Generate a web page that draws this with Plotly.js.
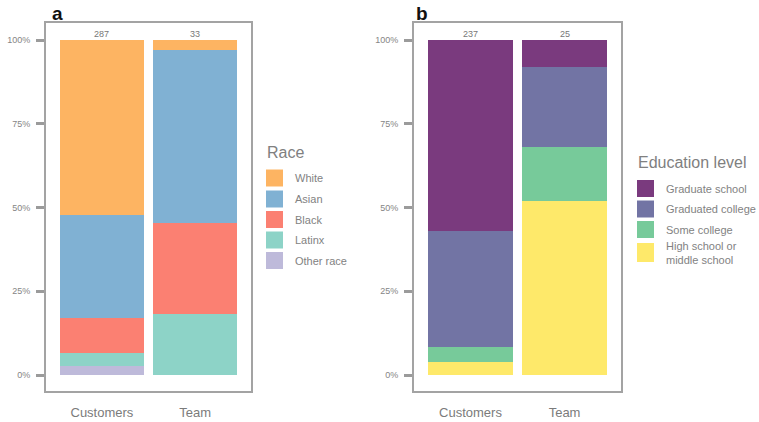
<!DOCTYPE html>
<html>
<head>
<meta charset="utf-8">
<script src="https://cdn.plot.ly/plotly-3.0.1.min.js"></script>
<style>
  html, body { margin: 0; padding: 0; background: #ffffff; }
  #chart { width: 759px; height: 422px; }
</style>
</head>
<body>
<div id="chart"></div>
<script>
// Groups compared in both panels
const groups = ['Customers', 'Team'];

// Panel a: race, counts per group (stack order bottom -> top)
const raceNames  = ['Other race', 'Latinx', 'Black', 'Asian', 'White'];
const raceColors = ['#BEBADA', '#8DD3C7', '#FB8072', '#80B1D3', '#FDB462'];
const raceOther  = [8, 0];
const raceLatinx = [11, 6];
const raceBlack  = [30, 9];
const raceAsian  = [88, 17];
const raceWhite  = [150, 1];

// Panel b: education level, counts per group (stack order bottom -> top)
const eduNames  = ['High school or<br>middle school', 'Some college', 'Graduated college', 'Graduate school'];
const eduColors = ['#FEE96A', '#77CA9A', '#7274A4', '#7A3A7E'];
const eduHigh   = [9, 13];
const eduSome   = [11, 4];
const eduCollege = [82, 6];
const eduGrad   = [135, 2];

// Y axis tick labels
const yTickVals = [0, 0.25, 0.5, 0.75, 1];
const yTickText = ['0%', '25%', '50%', '75%', '100%'];

const FONT = 'Liberation Sans, Arial, Helvetica, sans-serif';
const W = 759, H = 422;
const px = x => x / W;
const py = y => 1 - y / H;

function totals(series) {
  return groups.map((_, i) => series.reduce((s, arr) => s + arr[i], 0));
}

const raceSeries = [raceOther, raceLatinx, raceBlack, raceAsian, raceWhite];
const eduSeries = [eduHigh, eduSome, eduCollege, eduGrad];
const raceTotals = totals(raceSeries);
const eduTotals = totals(eduSeries);

const traces = [];
raceSeries.forEach((arr, k) => {
  traces.push({
    type: 'bar', x: groups, y: arr.map((v, i) => v / raceTotals[i]),
    name: raceNames[k], width: 0.9, xaxis: 'x', yaxis: 'y',
    marker: { color: raceColors[k], line: { width: 0 } },
    showlegend: false, hoverinfo: 'skip'
  });
});
eduSeries.forEach((arr, k) => {
  traces.push({
    type: 'bar', x: groups, y: arr.map((v, i) => v / eduTotals[i]),
    name: eduNames[k], width: 0.9, xaxis: 'x2', yaxis: 'y2',
    marker: { color: eduColors[k], line: { width: 0 } },
    showlegend: false, hoverinfo: 'skip'
  });
});

const yRange = [-16 / 335, 1 + 17 / 335];
const yDomain = [py(391), py(23)];

function xAxis(domain, anchor) {
  return {
    domain: domain, anchor: anchor, type: 'category',
    range: [-0.6, 1.6], fixedrange: true,
    showgrid: false, zeroline: false,
    showline: true, mirror: true, linecolor: '#a3a3a3', linewidth: 2,
    ticks: 'outside', ticklen: 8, tickcolor: 'rgba(0,0,0,0)',
    tickfont: { family: FONT, size: 13, color: '#7b7b7b' }
  };
}
function yAxis(anchor) {
  return {
    domain: yDomain, anchor: anchor, range: yRange, fixedrange: true,
    showgrid: false, zeroline: false,
    showline: true, mirror: true, linecolor: '#a3a3a3', linewidth: 2,
    ticks: 'outside', ticklen: 8, tickwidth: 3, tickcolor: '#9b9b9b',
    tickvals: yTickVals, ticktext: yTickText, ticklabelstandoff: 4,
    tickfont: { family: FONT, size: 9, color: '#858585' }
  };
}

const annotations = [];
const shapes = [];

// totals above each bar
groups.forEach((g, i) => {
  annotations.push({ xref: 'x', yref: 'y', x: g, y: 1, text: String(raceTotals[i]),
    showarrow: false, yanchor: 'bottom', yshift: -1,
    font: { family: FONT, size: 9, color: '#777777' } });
  annotations.push({ xref: 'x2', yref: 'y2', x: g, y: 1, text: String(eduTotals[i]),
    showarrow: false, yanchor: 'bottom', yshift: -1,
    font: { family: FONT, size: 9, color: '#777777' } });
});

// panel tags
[['a', 50], ['b', 414]].forEach(([t, x]) => {
  annotations.push({ xref: 'paper', yref: 'paper', x: px(x), y: py(13), text: '<b>' + t + '</b>',
    showarrow: false, xanchor: 'left', yanchor: 'middle',
    font: { family: FONT, size: 19, color: '#111111' } });
});

// legend blocks, top entry first
function legendBlock(title, names, colors, titleX, titleY, keyX, labelX, rows) {
  annotations.push({ xref: 'paper', yref: 'paper', x: px(titleX), y: py(titleY), text: title,
    showarrow: false, xanchor: 'left', yanchor: 'middle',
    font: { family: FONT, size: 16, color: '#808080' } });
  rows.forEach((r, k) => {
    shapes.push({ type: 'rect', xref: 'paper', yref: 'paper',
      x0: px(keyX), x1: px(keyX + 17), y0: py(r[0] + r[1] / 2), y1: py(r[0] - r[1] / 2),
      fillcolor: colors[k], line: { width: 0 } });
    annotations.push({ xref: 'paper', yref: 'paper', x: px(labelX), y: py(r[0]), text: names[k],
      showarrow: false, xanchor: 'left', yanchor: 'middle', align: 'left',
      font: { family: FONT, size: 11, color: '#828282' } });
  });
}
legendBlock('Race', raceNames.slice().reverse(), raceColors.slice().reverse(),
  265, 152.5, 266, 293, [[178, 17], [199, 17], [219.5, 17], [240, 17], [260.5, 17]]);
legendBlock('Education level', eduNames.slice().reverse(), eduColors.slice().reverse(),
  636, 163, 637, 664, [[188.5, 17], [209, 17], [229.5, 17], [252.5, 19]]);

const layout = {
  width: W, height: H,
  margin: { l: 0, r: 0, t: 0, b: 0 },
  paper_bgcolor: '#ffffff', plot_bgcolor: '#ffffff',
  barmode: 'stack', bargap: 0,
  showlegend: false,
  xaxis: xAxis([px(46), px(251)], 'y'),
  yaxis: yAxis('x'),
  xaxis2: xAxis([px(414), px(621)], 'y2'),
  yaxis2: yAxis('x2'),
  annotations: annotations,
  shapes: shapes,
  font: { family: FONT }
};

Plotly.newPlot('chart', traces, layout, { displayModeBar: false, staticPlot: true });
</script>
</body>
</html>
